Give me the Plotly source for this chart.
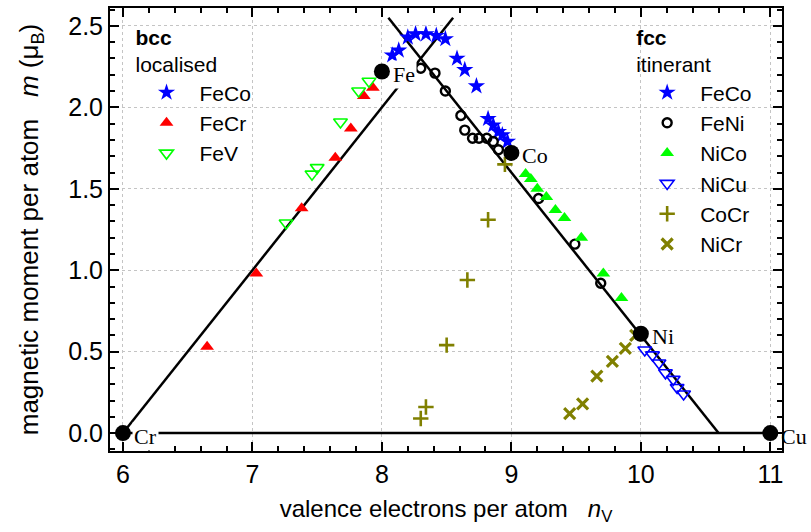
import plotly.graph_objects as go

# ---------------- data ----------------
# bcc, localised
fecobcc_n = [8.08, 8.13, 8.20, 8.26, 8.34, 8.42, 8.49, 8.58, 8.64, 8.73]
fecobcc_m = [2.32, 2.35, 2.43, 2.45, 2.45, 2.44, 2.42, 2.30, 2.23, 2.13]
fecr_n = [6.65, 7.03, 7.38, 7.64, 7.76, 7.86, 7.93]
fecr_m = [0.53, 0.98, 1.38, 1.69, 1.87, 2.07, 2.12]
fev_n = [7.26, 7.46, 7.50, 7.68, 7.82, 7.90]
fev_m = [1.29, 1.59, 1.63, 1.91, 2.10, 2.16]

# fcc, itinerant
fecofcc_n = [8.82, 8.86, 8.90, 8.93, 8.97]
fecofcc_m = [1.93, 1.89, 1.85, 1.83, 1.79]
feni_n = [8.30, 8.41, 8.49, 8.61, 8.64, 8.70, 8.75, 8.81, 8.86, 8.90, 9.21, 9.49, 9.69]
feni_m = [2.24, 2.21, 2.10, 1.95, 1.86, 1.81, 1.81, 1.81, 1.79, 1.74, 1.44, 1.16, 0.92]
nico_n = [9.11, 9.15, 9.20, 9.27, 9.34, 9.41, 9.54, 9.71, 9.85]
nico_m = [1.59, 1.56, 1.50, 1.45, 1.37, 1.32, 1.20, 0.98, 0.83]
nicu_n = [10.03, 10.09, 10.14, 10.19, 10.25, 10.28, 10.33]
nicu_m = [0.51, 0.48, 0.43, 0.37, 0.33, 0.28, 0.24]
cocr_n = [8.95, 8.82, 8.66, 8.50, 8.34, 8.30]
cocr_m = [1.65, 1.31, 0.94, 0.54, 0.16, 0.09]
nicr_n = [9.45, 9.55, 9.66, 9.78, 9.88, 9.96]
nicr_m = [0.12, 0.18, 0.35, 0.44, 0.52, 0.60]

# pure elements
elem_names = ["Cr", "Fe", "Co", "Ni", "Cu"]
elem_n = [6, 8, 9, 10, 11]
elem_m = [0.0, 2.22, 1.72, 0.61, 0.0]

# Slater-Pauling guide lines
spl_n = [6.0, 8.55]
spl_m = [0.0, 2.55]
spr_n = [8.05, 10.6]
spr_m = [2.55, 0.0]
base_n = [6, 11]
base_m = [0, 0]

x_ticks = [6, 7, 8, 9, 10, 11]
y_ticks = [0.0, 0.5, 1.0, 1.5, 2.0, 2.5]

# ---------------- figure ----------------
SANS = "Liberation Sans, Arial, sans-serif"
SERIF = "Liberation Serif, Times New Roman, serif"
BLUE, RED, GREEN, OLIVE = "#0000ff", "#ff0000", "#00ff00", "#808000"

fig = go.Figure()

for xs, ys in [(spl_n, spl_m), (spr_n, spr_m), (base_n, base_m)]:
    fig.add_trace(go.Scatter(x=xs, y=ys, mode="lines", showlegend=False,
                             line=dict(color="black", width=2.5), hoverinfo="skip"))

def pts(xs, ys, name, symbol, color, size, legend, open_=False, lw=1.5):
    if open_:
        marker = dict(symbol=symbol, size=size, color=color,
                      line=dict(color=color, width=lw))
    else:
        marker = dict(symbol=symbol, size=size, color=color,
                      line=dict(color=color, width=0))
    fig.add_trace(go.Scatter(x=xs, y=ys, mode="markers", name=name,
                             marker=marker, legend=legend))

# bcc legend
pts(fecobcc_n, fecobcc_m, "FeCo", "star", BLUE, 13, "legend")
pts(fecr_n, fecr_m, "FeCr", "triangle-up", RED, 12, "legend")
pts(fev_n, fev_m, "FeV", "triangle-down-open", GREEN, 12, "legend", True, 1.6)
# fcc legend
pts(fecofcc_n, fecofcc_m, "FeCo", "star", BLUE, 13, "legend2")
pts(feni_n, feni_m, "FeNi", "circle-open", "black", 9, "legend2", True, 2.4)
pts(nico_n, nico_m, "NiCo", "triangle-up", GREEN, 12, "legend2")
pts(nicu_n, nicu_m, "NiCu", "triangle-down-open", BLUE, 12, "legend2", True, 1.6)
pts(cocr_n, cocr_m, "CoCr", "cross-thin-open", OLIVE, 11, "legend2", True, 2.6)
pts(nicr_n, nicr_m, "NiCr", "x-thin-open", OLIVE, 11, "legend2", True, 3.2)

# element dots
fig.add_trace(go.Scatter(x=elem_n, y=elem_m, mode="markers", showlegend=False,
                         marker=dict(symbol="circle", size=16, color="black"),
                         cliponaxis=False))

for name, xv, yv in zip(elem_names, elem_n, elem_m):
    fig.add_annotation(x=xv, y=yv, text=name, showarrow=False,
                       xanchor="left", yanchor="middle", xshift=9, yshift=-3,
                       font=dict(family=SERIF, size=22, color="black"),
                       bgcolor="white" if name in ("Fe", "Cr") else "rgba(0,0,0,0)",
                       borderpad=1)

axis_common = dict(
    showline=True, linecolor="black", linewidth=2, mirror="allticks",
    ticks="inside", ticklen=9, tickwidth=2, tickcolor="black",
    showgrid=True, gridcolor="#c4c4c4", gridwidth=1, griddash="dot",
    zeroline=False, tickfont=dict(family=SANS, size=25, color="black"),
)

fig.update_xaxes(
    range=[5.9, 11.09], tickvals=x_ticks, ticktext=[str(v) for v in x_ticks],
    minor=dict(ticks="inside", ticklen=5, tickwidth=1.5, tickcolor="black",
               dtick=0.2, tick0=6, showgrid=False),
    title=dict(text="valence electrons per atom   <i>n</i><sub>V</sub>",
               font=dict(family=SANS, size=24, color="black"), standoff=13),
    **axis_common)
fig.update_yaxes(
    range=[-0.11, 2.61], tickvals=y_ticks, ticktext=[f"{v:.1f}" for v in y_ticks],
    minor=dict(ticks="inside", ticklen=5, tickwidth=1.5, tickcolor="black",
               dtick=0.1, tick0=0, showgrid=False),
    title=dict(text="magnetic moment per atom   <i>m</i> (μ<sub>B</sub>)",
               font=dict(family=SANS, size=26, color="black"), standoff=22),
    **axis_common)

legend_common = dict(
    bgcolor="rgba(0,0,0,0)", borderwidth=0, itemwidth=56,
    font=dict(family=SANS, size=21, color="black"),
    xanchor="left", yanchor="top", tracegroupgap=0, itemsizing="trace",
)
fig.update_layout(
    width=811, height=532,
    margin=dict(l=110, r=29, t=6, b=81),
    plot_bgcolor="white", paper_bgcolor="white",
    legend=dict(x=0.035, y=0.978, title=dict(text="<b>bcc</b><br>localised",
                font=dict(family=SANS, size=21, color="black")), **legend_common),
    legend2=dict(x=0.78, y=0.978, title=dict(text="<b>fcc</b><br>itinerant",
                 font=dict(family=SANS, size=21, color="black")), **legend_common),
)

fig.write_html("out.html")
